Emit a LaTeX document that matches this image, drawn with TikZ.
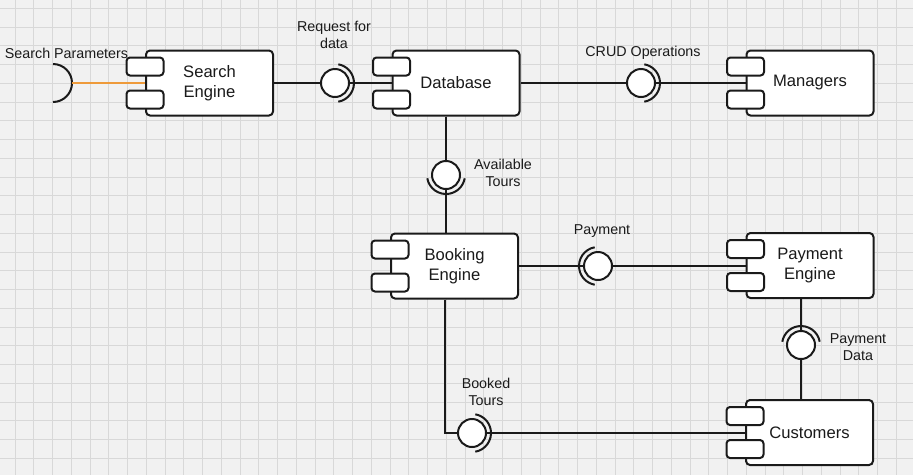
\documentclass[tikz,border=0pt]{standalone}
\usepackage{fontspec}
\setmainfont{Liberation Sans}
\definecolor{bg}{HTML}{F1F1F1}
\definecolor{gridc}{HTML}{D8D8D8}
\definecolor{ink}{HTML}{1A1A1A}
\definecolor{orangec}{HTML}{EE9A3A}
\tikzset{
  comp/.style={draw=ink, fill=white, line width=2pt, rounded corners=4pt,
    minimum width=127pt, minimum height=65pt, inner sep=0pt, align=center,
    font=\fontsize{16.6}{20.2}\selectfont, text=ink},
  portbox/.style={draw=ink, fill=white, line width=2pt, rounded corners=3.5pt,
    minimum width=37pt, minimum height=18pt, inner sep=0pt},
  lolli/.style={circle, draw=ink, fill=white, line width=2pt,
    minimum size=28pt, inner sep=0pt},
  sock/.style={draw=ink, line width=2pt},
  wire/.style={draw=ink, line width=2pt},
  lbl/.style={font=\fontsize{14.3}{17}\selectfont, text=ink, align=center, inner sep=0pt},
}
\newcommand\mkcomp[4]{%
  \node[comp] (#1) at (#2,#3) {#4};
  \node[portbox] at ([yshift=16.5pt]#1.west) {};
  \node[portbox] at ([yshift=-16.5pt]#1.west) {};
}
\begin{document}
\begin{tikzpicture}[x=1pt,y=-1pt]
\useasboundingbox (0,0) rectangle (913,475);
\fill[bg] (0,0) rectangle (913,475);
\foreach \i in {0,...,47} \draw[gridc, line width=1pt] (15+18.75*\i,0) -- (15+18.75*\i,475);
\foreach \j in {0,...,24} \draw[gridc, line width=1pt] (0,8.3+18.75*\j) -- (913,8.3+18.75*\j);

% components
\mkcomp{se}{209.5}{83}{Search\\Engine}
\mkcomp{db}{456}{83}{Database}
\mkcomp{mg}{810}{83}{Managers}
\mkcomp{be}{454.5}{266}{Booking\\Engine}
\mkcomp{pe}{810}{265.5}{Payment\\Engine}
\mkcomp{cu}{809.5}{432.5}{Customers}

% interfaces
\node[lolli] (req) at (335,83) {};
\node[lolli] (crud) at (641,83) {};
\node[lolli] (avail) at (446,175) {};
\node[lolli] (pay) at (598,266) {};
\node[lolli] (pdata) at (801,345) {};
\node[lolli] (booked) at (472,433) {};

\draw[sock] (req) ++(-80:19pt) arc[start angle=-80, end angle=80, radius=19pt];
\draw[sock] (crud) ++(-80:19pt) arc[start angle=-80, end angle=80, radius=19pt];
\draw[sock] (avail) ++(190:19pt) arc[start angle=190, end angle=350, radius=19pt];
\draw[sock] (pay) ++(100:19pt) arc[start angle=100, end angle=260, radius=19pt];
\draw[sock] (pdata) ++(10:19pt) arc[start angle=10, end angle=170, radius=19pt];
\draw[sock] (booked) ++(-80:19pt) arc[start angle=-80, end angle=80, radius=19pt];

% required interface (socket) for Search Parameters
\coordinate (spc) at (53,83);
\coordinate (spk) at (72,83);
\draw[sock] (spc) ++(90:19pt) arc[start angle=90, end angle=-90, radius=19pt];
\draw[orangec, line width=2pt] (spk) -- (se.west);

% connectors
\draw[wire] (se.east) -- (req.west);
\draw[wire] (req.east) -- (req.east -| db.west);
\draw[wire] (db.east) -- (db.east -| crud.west);
\draw[wire] (crud.east) -- (crud.east -| mg.west);
\draw[wire] (avail |- db.south) -- (avail.north);
\draw[wire] (avail.south) -- (avail |- be.north);
\draw[wire] (be.east) -- (pay.west);
\draw[wire] (pay.east) -- (pay.east -| pe.west);
\draw[wire] (pdata |- pe.south) -- (pdata.north);
\draw[wire] (pdata.south) -- (pdata |- cu.north);
\coordinate (bk) at (445,433);
\draw[wire] (bk |- be.south) -- (bk) -- (booked.west);
\draw[wire] (booked.east) -- (booked.east -| cu.west);

% labels
\node[lbl] (lsp) at (66.5,53) {Search Parameters};
\node[lbl] (lreq) at (334,34.5) {Request for\\data};
\node[lbl] (lcrud) at (643,53) {CRUD Operations};
\node[lbl] (lavail) at (503,173) {Available\\Tours};
\node[lbl] (lpay) at (602,231) {Payment};
\node[lbl] (lpdata) at (858,347) {Payment\\Data};
\node[lbl] (lbooked) at (486,391.5) {Booked\\Tours};
\end{tikzpicture}
\end{document}
